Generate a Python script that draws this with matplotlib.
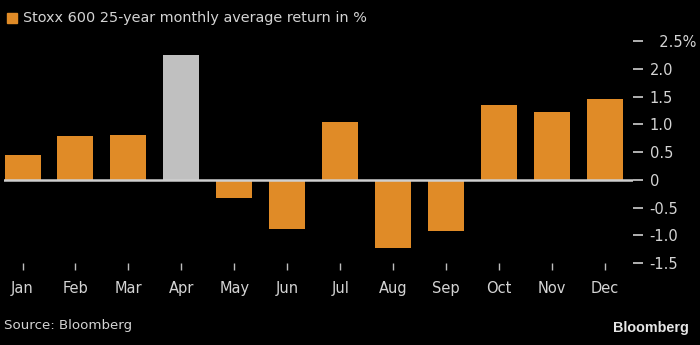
import matplotlib.pyplot as plt
from matplotlib import font_manager

months = ['Jan', 'Feb', 'Mar', 'Apr', 'May', 'Jun', 'Jul', 'Aug', 'Sep', 'Oct', 'Nov', 'Dec']
returns = [0.44, 0.78, 0.80, 2.25, -0.32, -0.88, 1.05, -1.23, -0.93, 1.34, 1.22, 1.45]
highlight = 'Apr'
yticks = [-1.5, -1.0, -0.5, 0, 0.5, 1.0, 1.5, 2.0, 2.5]
ytick_labels = ['-1.5', '-1.0', '-0.5', '0', '0.5', '1.0', '1.5', '2.0', '  2.5%']

orange = '#e08b27'
grey_bar = '#c0c0c0'
txt = '#d4d4d4'

names = {f.name for f in font_manager.fontManager.ttflist}
print(sorted(n for n in names if 'Narrow' in n or 'Condensed' in n))

plt.rcParams['font.family'] = ['DejaVu Sans']

fig = plt.figure(figsize=(7, 3.45), dpi=100, facecolor='black')
ax = fig.add_axes([0.0057, 0.2377, 0.8986, 0.6433], facecolor='black')

colors = [grey_bar if m == highlight else orange for m in months]
ax.bar(range(len(months)), returns, width=0.68, color=colors, zorder=2)
ax.axhline(0, color='#cfcfcf', lw=1.8, zorder=3)

ax.set_xlim(-0.35, 11.53)
ax.set_ylim(-1.5, 2.5)
ax.set_xticks(range(len(months)))
ax.set_xticklabels(months)
ax.set_yticks(yticks)
ax.set_yticklabels(ytick_labels)
ax.yaxis.tick_right()

for s in ax.spines.values():
    s.set_visible(False)

ax.tick_params(axis='y', colors='#cfcfcf', labelcolor=txt, length=7, width=1.2, pad=5, labelsize=10.5)
ax.tick_params(axis='x', colors='#bdbdbd', labelcolor=txt, length=5, width=1, pad=8, labelsize=10.5)

# legend-style title
fig.patches.append(plt.Rectangle((7 / 700, 1 - 23 / 345), 10 / 700, 10 / 345,
                                 transform=fig.transFigure, color=orange))
fig.text(23 / 700, 1 - 18 / 345, 'Stoxx 600 25-year monthly average return in %',
         color=txt, fontsize=10.4, va='center', ha='left')

fig.text(4 / 700, 1 - 326 / 345, 'Source: Bloomberg', color=txt, fontsize=9.6, va='center')
fig.text(689 / 700, 1 - 328 / 345, 'Bloomberg', color='#e6e6e6', fontsize=10.4,
         fontweight='bold', family='Liberation Sans', va='center', ha='right')

fig.savefig('out.png', dpi=100, facecolor='black')
